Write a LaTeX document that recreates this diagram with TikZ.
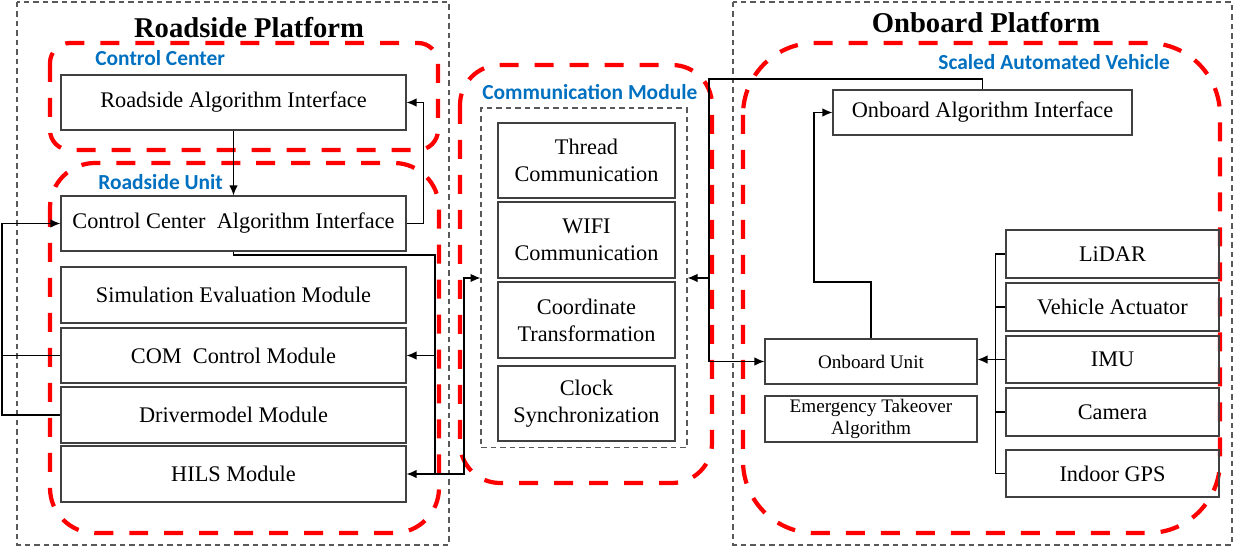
\documentclass[tikz,border=0pt]{standalone}
\usepackage{fontspec}
\setmainfont{Liberation Serif}
\newfontfamily\lblfont{Carlito}
\usetikzlibrary{arrows.meta,calc}
\definecolor{RegionClr}{RGB}{255,0,0}
\definecolor{LabelClr}{RGB}{0,112,192}
\definecolor{EdgeClr}{RGB}{64,64,64}

\tikzset{
  modbox/.style={draw=EdgeClr,line width=0.7pt,align=center,inner sep=0pt,
    font=\fontsize{12.7}{15.3}\selectfont},
  smallbox/.style={modbox,font=\fontsize{10.9}{12.5}\selectfont},
  region/.style={draw=RegionClr,line width=2.4pt,dash pattern=on 0.38cm off 0.32cm},
  platform/.style={draw=black!65,line width=0.6pt,dash pattern=on 0.11cm off 0.08cm},
  regionlbl/.style={font=\lblfont\bfseries\fontsize{12.2}{14}\selectfont,text=LabelClr,inner sep=0pt},
  titlelbl/.style={font=\bfseries\fontsize{16.3}{19}\selectfont,inner sep=0pt},
  wire/.style={line width=0.7pt},
  arr/.style={wire,-{Latex[length=2mm,width=1.7mm]}}
}

\begin{document}
\begin{tikzpicture}[x=0.02cm,y=-0.02cm]
\useasboundingbox (0,0) rectangle (1234,546);

% platforms and regions
\draw[platform] (17,2) rectangle (449,545);
\draw[platform] (733,2) rectangle (1232,545);
\draw[region,rounded corners=0.4cm] (50,43) rectangle (438,150);
\draw[region,rounded corners=0.9cm] (50,163) rectangle (439,533);
\draw[region,rounded corners=0.8cm] (460,65) rectangle (712,483);
\draw[region,rounded corners=1.44cm] (743,43) rectangle (1220,533);

\node[titlelbl,anchor=base] at (249,38) {Roadside Platform};
\node[titlelbl,anchor=base] at (986,33) {Onboard Platform};
\node[regionlbl,anchor=base west] at (95,66) {Control Center};
\node[regionlbl,anchor=base west] at (98,190) {Roadside Unit};
\node[regionlbl,anchor=base west] at (482,100) {Communication Module};
\node[regionlbl,anchor=base west] at (938,70) {Scaled Automated Vehicle};

% roadside
\node[modbox,minimum width=6.9cm,minimum height=1.1cm] (rai) at (233.5,102.5) {Roadside Algorithm Interface};
\node[modbox,minimum width=6.9cm,minimum height=1.1cm] (ccai) at (233.5,223.5) {Control Center\ \ Algorithm Interface};
\node[modbox,minimum width=6.9cm,minimum height=1.12cm] (sem) at (233.5,295) {Simulation Evaluation Module};
\node[modbox,minimum width=6.9cm,minimum height=1.1cm] (com) at (233.5,355.5) {COM\ \ Control Module};
\node[modbox,minimum width=6.9cm,minimum height=1.12cm] (drv) at (233.5,415) {Drivermodel Module};
\node[modbox,minimum width=6.9cm,minimum height=1.12cm] (hils) at (233.5,474) {HILS Module};

% communication
\node[platform,minimum width=4.12cm,minimum height=6.8cm] (commbox) at (584,278) {};
\node[modbox,minimum width=3.54cm,minimum height=1.5cm] (thread) at (586.5,160.5) {Thread\\Communication};
\node[modbox,minimum width=3.54cm,minimum height=1.52cm] (wifi) at (586.5,240) {WIFI\\Communication};
\node[modbox,minimum width=3.54cm,minimum height=1.52cm] (coord) at (586.5,320) {Coordinate\\Transformation};
\node[modbox,minimum width=3.54cm,minimum height=1.5cm] (clock) at (586.5,403.5) {Clock\\Synchronization};

% onboard
\node[modbox,minimum width=5.98cm,minimum height=0.9cm] (oai) at (982.5,112.5) {Onboard Algorithm Interface};
\node[smallbox,minimum width=4.24cm,minimum height=0.9cm] (obu) at (871,361.5) {Onboard Unit};
\node[smallbox,minimum width=4.24cm,minimum height=0.92cm] (eta) at (871,419) {Emergency Takeover\\Algorithm};
\node[modbox,minimum width=4.26cm,minimum height=0.96cm] (lidar) at (1112.5,254) {LiDAR};
\node[modbox,minimum width=4.26cm,minimum height=0.96cm] (va) at (1112.5,307) {Vehicle Actuator};
\node[modbox,minimum width=4.26cm,minimum height=0.94cm] (imu) at (1112.5,359.5) {IMU};
\node[modbox,minimum width=4.26cm,minimum height=0.96cm] (cam) at (1112.5,412) {Camera};
\node[modbox,minimum width=4.26cm,minimum height=0.94cm] (gps) at (1112.5,473.5) {Indoor GPS};

\coordinate (loop) at (2,415);
\coordinate (rsbus) at (435,255);
\coordinate (rsbot) at (435,474);
\coordinate (cbus) at (709,79);
\coordinate (ojog) at (814,282);

\draw[arr] (rai.south) -- (ccai.north);
\draw[arr] (ccai.east) -- ++(17,0) |- (rai.east);
\draw[wire] (ccai.south) |- (rsbus) -- (rsbot);
\draw[arr] (rsbus |- com.east) -- (com.east);
\draw[arr] (rsbot) -- (hils.east);
\draw[arr] (rsbot) -- ++(29,0) |- (commbox.west);
\draw[arr] (drv.west) -- (loop) |- (ccai.west);
\draw[wire] (com.west) -- (com.west -| loop);

\draw[arr] (oai.north) |- (cbus) |- (obu.west);
\draw[arr] (cbus |- commbox.east) -- (commbox.east);
\draw[arr] (obu.north) |- (ojog) |- (oai.west);

\draw[wire] (lidar.west) -- ++(-10,0) |- (gps.west);
\foreach \s in {va,cam}
  \draw[wire] (\s.west) -- ++(-10,0);
\draw[arr] (imu.west) -- (imu.west -| obu.east);

\end{tikzpicture}
\end{document}
